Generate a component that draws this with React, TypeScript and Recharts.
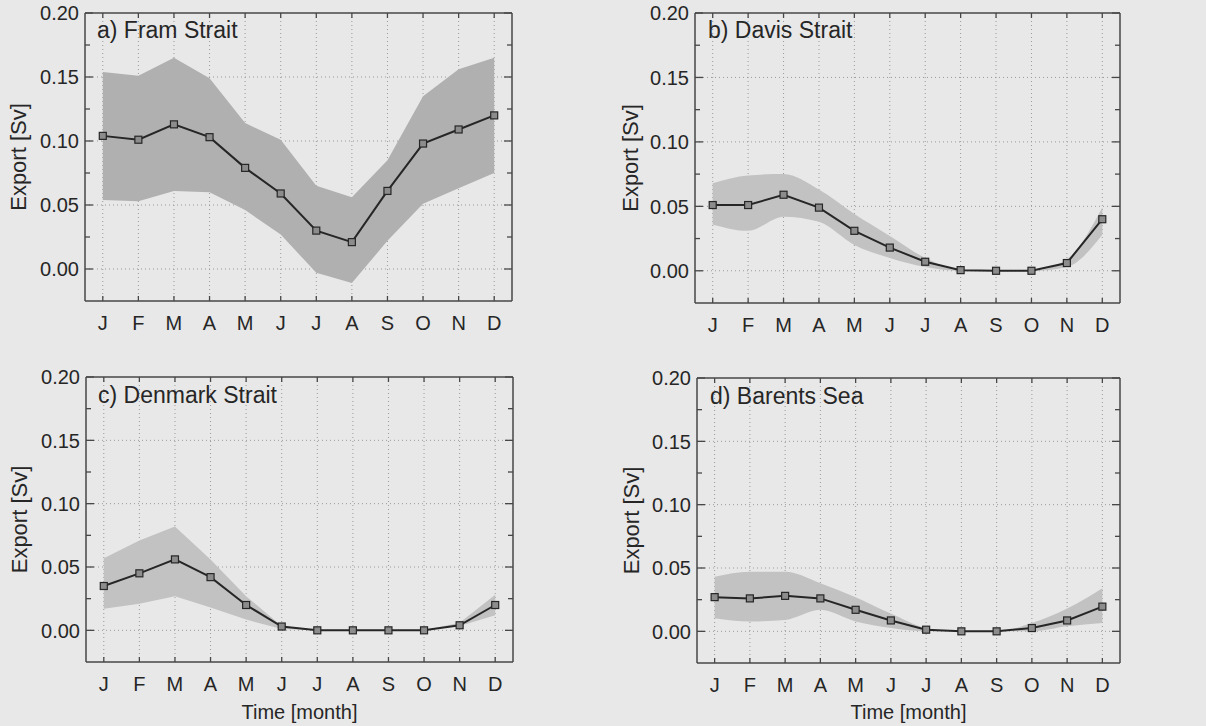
import React from "react";
import { ComposedChart, Area, Line, XAxis, YAxis, CartesianGrid } from "recharts";

const MONTHS = ["J", "F", "M", "A", "M", "J", "J", "A", "S", "O", "N", "D"];
const MONTH_NUMS = [1, 2, 3, 4, 5, 6, 7, 8, 9, 10, 11, 12];
const Y_TICKS = [0, 0.025, 0.05, 0.075, 0.1, 0.125, 0.15, 0.175, 0.2];
const Y_GRID = [0, 0.05, 0.1, 0.15];

// Fram Strait
const framMean = [0.104, 0.101, 0.113, 0.103, 0.079, 0.059, 0.03, 0.021, 0.061, 0.098, 0.109, 0.12];
const framHi = [0.154, 0.151, 0.165, 0.149, 0.114, 0.101, 0.065, 0.056, 0.085, 0.135, 0.156, 0.165];
const framLo = [0.054, 0.053, 0.061, 0.06, 0.046, 0.027, -0.003, -0.011, 0.022, 0.051, 0.063, 0.075];

// Davis Strait
const davisMean = [0.051, 0.051, 0.059, 0.049, 0.031, 0.018, 0.007, 0.0005, 0, 0, 0.006, 0.04];
const davisHi = [0.068, 0.074, 0.075, 0.063, 0.044, 0.027, 0.01, 0.001, 0, 0, 0.009, 0.049];
const davisLo = [0.036, 0.031, 0.042, 0.038, 0.02, 0.01, 0.003, 0, 0, 0, 0.003, 0.028];

// Denmark Strait
const denmarkMean = [0.035, 0.045, 0.056, 0.042, 0.02, 0.003, 0, 0, 0, 0, 0.004, 0.02];
const denmarkHi = [0.057, 0.071, 0.082, 0.056, 0.027, 0.0035, 0, 0, 0, 0, 0.006, 0.028];
const denmarkLo = [0.017, 0.021, 0.027, 0.018, 0.0085, 0.001, 0, 0, 0, 0, 0.0035, 0.012];

// Barents Sea
const barentsMean = [0.027, 0.026, 0.028, 0.026, 0.017, 0.0086, 0.0013, 0, 0, 0.0026, 0.0086, 0.0195];
const barentsHi = [0.043, 0.047, 0.047, 0.038, 0.027, 0.014, 0.0026, 0, 0, 0.0065, 0.018, 0.034];
const barentsLo = [0.0104, 0.0078, 0.009, 0.017, 0.0078, 0.0026, 0, 0, 0, 0, 0.004, 0.0065];

const INK = "#262626";
const BOX = "#474747";
const FONT = "'Liberation Sans', Arial, Helvetica, sans-serif";

const isMajor = (v: number) => Math.round(v * 1000) % 50 === 0;

const LeftTick = (props: any) => {
  const { x, y, payload } = props;
  const v = payload.value;
  const major = isMajor(v);
  return (
    <g>
      <line x1={x} x2={x + (major ? 8 : 5)} y1={y} y2={y} stroke={BOX} strokeWidth={1.3} />
      {major && (
        <text x={x - 6} y={y} dy="0.36em" textAnchor="end" fontSize={20} fill={INK} fontFamily={FONT}>
          {v.toFixed(2)}
        </text>
      )}
    </g>
  );
};

const RightTick = (props: any) => {
  const { x, y, payload } = props;
  const major = isMajor(payload.value);
  return <line x1={x} x2={x - (major ? 8 : 5)} y1={y} y2={y} stroke={BOX} strokeWidth={1.3} />;
};

const BottomTick = (props: any) => {
  const { x, y, payload } = props;
  return (
    <g>
      <line x1={x} x2={x} y1={y} y2={y - 5} stroke={BOX} strokeWidth={1.3} />
      <text x={x} y={y + 22} dy="0.36em" textAnchor="middle" fontSize={20} fill={INK} fontFamily={FONT}>
        {MONTHS[payload.value - 1]}
      </text>
    </g>
  );
};

const TopTick = (props: any) => {
  const { x, y } = props;
  return <line x1={x} x2={x} y1={y} y2={y + 5} stroke={BOX} strokeWidth={1.3} />;
};

const Square = (props: any) => {
  const { cx, cy, index } = props;
  if (cx == null || cy == null) return <g key={index} />;
  return (
    <rect key={index} x={cx - 3.5} y={cy - 3.5} width={7} height={7} fill="#8c8c8c" stroke={INK} strokeWidth={1.2} />
  );
};

type PanelProps = {
  title: string;
  mean: number[];
  hi: number[];
  lo: number[];
  left: number;
  top: number;
  margin: { top: number; right: number; bottom: number; left: number };
  labelX: number;
  titleX: number;
  titleBase: number;
  showTime: boolean;
  bandColor: string;
  bandCurve: "linear" | "monotone";
};

const Panel = (p: PanelProps) => {
  const data = MONTH_NUMS.map((m, i) => ({ m, mean: p.mean[i], band: [p.lo[i], p.hi[i]] }));
  const W = 603;
  const H = 363;
  return (
    <div style={{ position: "absolute", left: p.left, top: p.top, width: W, height: H }}>
      <ComposedChart
        width={W}
        height={H}
        data={data}
        margin={{ top: p.margin.top - 1, right: p.margin.right - 1, bottom: 0, left: 0 }}
      >
        <CartesianGrid
          stroke="#9a9a9a"
          strokeDasharray="1 3"
          strokeWidth={1}
          horizontalValues={Y_GRID}
          verticalValues={MONTH_NUMS}
        />
        <Area
          dataKey="band"
          type={p.bandCurve}
          stroke="none"
          fill={p.bandColor}
          fillOpacity={1}
          isAnimationActive={false}
        />
        <Line
          dataKey="mean"
          type="linear"
          stroke={INK}
          strokeWidth={2}
          dot={<Square />}
          activeDot={false}
          isAnimationActive={false}
        />
        <XAxis
          type="number"
          dataKey="m"
          domain={[0.5, 12.5]}
          ticks={MONTH_NUMS}
          interval={0}
          height={p.margin.bottom}
          tickSize={0}
          tickMargin={0}
          tickLine={false}
          tick={<BottomTick />}
          axisLine={{ stroke: BOX, strokeWidth: 1.5 }}
          label={
            p.showTime
              ? { value: "Time [month]", position: "insideBottom", offset: 7, fontSize: 20, fill: INK, fontFamily: FONT }
              : undefined
          }
        />
        <XAxis
          xAxisId="top"
          orientation="top"
          type="number"
          dataKey="m"
          domain={[0.5, 12.5]}
          ticks={MONTH_NUMS}
          interval={0}
          height={1}
          tickSize={0}
          tickMargin={0}
          tickLine={false}
          tick={<TopTick />}
          axisLine={{ stroke: BOX, strokeWidth: 1.5 }}
        />
        <YAxis
          type="number"
          domain={[-0.025, 0.2]}
          ticks={Y_TICKS}
          interval={0}
          allowDataOverflow
          width={p.margin.left}
          tickSize={0}
          tickMargin={0}
          tickLine={false}
          tick={<LeftTick />}
          axisLine={{ stroke: BOX, strokeWidth: 1.5 }}
          label={{
            value: "Export [Sv]",
            angle: -90,
            position: "insideLeft",
            offset: p.labelX,
            fontSize: 22,
            fill: INK,
            fontFamily: FONT,
            style: { textAnchor: "middle" },
          }}
        />
        <YAxis
          yAxisId="right"
          orientation="right"
          type="number"
          domain={[-0.025, 0.2]}
          ticks={Y_TICKS}
          interval={0}
          allowDataOverflow
          width={1}
          tickSize={0}
          tickMargin={0}
          tickLine={false}
          tick={<RightTick />}
          axisLine={{ stroke: BOX, strokeWidth: 1.5 }}
        />
      </ComposedChart>
      <div
        style={{
          position: "absolute",
          left: p.titleX,
          top: p.titleBase - 21,
          fontSize: 23,
          lineHeight: "23px",
          fontFamily: FONT,
          color: INK,
          whiteSpace: "nowrap",
        }}
      >
        {p.title}
      </div>
    </div>
  );
};

export default function App() {
  return (
    <div
      style={{
        position: "absolute",
        left: 0,
        top: 0,
        width: 1206,
        height: 726,
        background: "#e8e8e8",
        overflow: "hidden",
      }}
    >
      <Panel
        title="a) Fram Strait"
        mean={framMean}
        hi={framHi}
        lo={framLo}
        left={0}
        top={0}
        margin={{ top: 13, right: 91, bottom: 62, left: 85 }}
        labelX={18}
        titleX={97}
        titleBase={40}
        showTime={false}
        bandColor="#b0b0b0"
        bandCurve="linear"
      />
      <Panel
        title="b) Davis Strait"
        mean={davisMean}
        hi={davisHi}
        lo={davisLo}
        left={603}
        top={0}
        margin={{ top: 13, right: 86, bottom: 60, left: 92 }}
        labelX={27}
        titleX={105}
        titleBase={40}
        showTime={false}
        bandColor="#c2c2c2"
        bandCurve="monotone"
      />
      <Panel
        title="c) Denmark Strait"
        mean={denmarkMean}
        hi={denmarkHi}
        lo={denmarkLo}
        left={0}
        top={363}
        margin={{ top: 14, right: 90, bottom: 64, left: 86 }}
        labelX={19}
        titleX={98}
        titleBase={42}
        showTime={true}
        bandColor="#c2c2c2"
        bandCurve="linear"
      />
      <Panel
        title="d) Barents Sea"
        mean={barentsMean}
        hi={barentsHi}
        lo={barentsLo}
        left={603}
        top={363}
        margin={{ top: 15, right: 86, bottom: 63, left: 94 }}
        labelX={28}
        titleX={107}
        titleBase={43}
        showTime={true}
        bandColor="#c2c2c2"
        bandCurve="monotone"
      />
    </div>
  );
}
